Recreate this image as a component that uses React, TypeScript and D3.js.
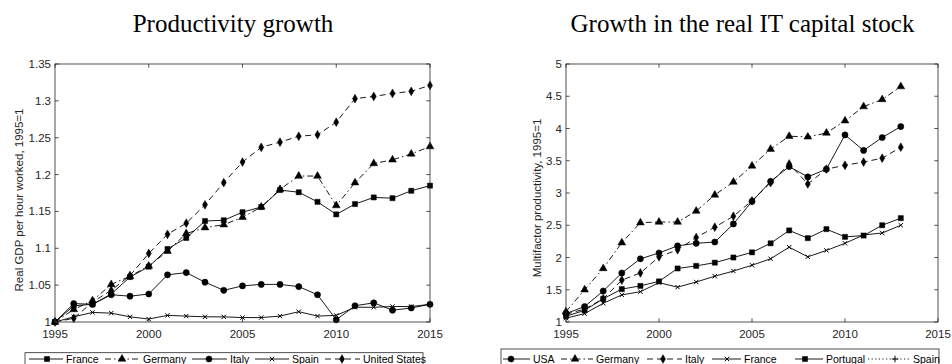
import React from "react";
import * as d3 from "d3";

// ---------- Productivity growth (real GDP per hour worked, 1995 = 1) ----------
const gdpYears = [1995, 1996, 1997, 1998, 1999, 2000, 2001, 2002, 2003, 2004, 2005, 2006, 2007, 2008, 2009, 2010, 2011, 2012, 2013, 2014, 2015];
const gdpFrance = [1, 1.022, 1.024, 1.038, 1.061, 1.075, 1.099, 1.114, 1.137, 1.138, 1.149, 1.156, 1.179, 1.176, 1.163, 1.146, 1.16, 1.169, 1.168, 1.178, 1.185];
const gdpGermany = [1, 1.017, 1.029, 1.051, 1.062, 1.076, 1.096, 1.12, 1.128, 1.132, 1.142, 1.156, 1.18, 1.198, 1.198, 1.158, 1.189, 1.215, 1.22, 1.228, 1.238];
const gdpItaly = [1, 1.025, 1.024, 1.037, 1.035, 1.038, 1.064, 1.067, 1.054, 1.043, 1.049, 1.051, 1.051, 1.048, 1.037, 1.003, 1.022, 1.026, 1.016, 1.019, 1.024];
const gdpSpain = [1, 1.007, 1.013, 1.012, 1.007, 1.004, 1.009, 1.008, 1.007, 1.007, 1.006, 1.006, 1.008, 1.014, 1.008, 1.009, 1.02, 1.02, 1.021, 1.021, 1.024];
const gdpUS = [1, 1.005, 1.027, 1.043, 1.063, 1.093, 1.119, 1.134, 1.159, 1.189, 1.217, 1.237, 1.244, 1.252, 1.254, 1.271, 1.303, 1.306, 1.31, 1.313, 1.321];
const gdpYTicks = [1, 1.05, 1.1, 1.15, 1.2, 1.25, 1.3, 1.35];
const gdpXTicks = [1995, 2000, 2005, 2010, 2015];

// ---------- Growth in the real IT capital stock ----------
const itYears = [1995, 1996, 1997, 1998, 1999, 2000, 2001, 2002, 2003, 2004, 2005, 2006, 2007, 2008, 2009, 2010, 2011, 2012, 2013];
const itUSA = [1.13, 1.24, 1.48, 1.76, 1.98, 2.07, 2.18, 2.22, 2.24, 2.52, 2.87, 3.18, 3.41, 3.25, 3.37, 3.9, 3.66, 3.86, 4.03];
const itGermany = [1.16, 1.5, 1.83, 2.23, 2.54, 2.55, 2.55, 2.72, 2.97, 3.17, 3.42, 3.68, 3.88, 3.87, 3.93, 4.12, 4.34, 4.45, 4.65];
const itItaly = [1.12, 1.2, 1.36, 1.65, 1.76, 2.01, 2.12, 2.31, 2.47, 2.64, 2.88, 3.16, 3.45, 3.14, 3.37, 3.43, 3.48, 3.54, 3.71];
const itFrance = [1.06, 1.13, 1.29, 1.42, 1.47, 1.61, 1.54, 1.62, 1.71, 1.79, 1.88, 1.98, 2.16, 2.01, 2.11, 2.22, 2.35, 2.38, 2.5];
const itPortugal = [1.09, 1.18, 1.36, 1.51, 1.56, 1.63, 1.83, 1.87, 1.92, 2.0, 2.08, 2.22, 2.42, 2.3, 2.44, 2.32, 2.34, 2.5, 2.61];
const itSpain: number[] = [];
const itYTicks = [1, 1.5, 2, 2.5, 3, 3.5, 4, 4.5, 5];
const itXTicks = [1995, 2000, 2005, 2010, 2015];

type Marker = "square" | "triangle" | "circle" | "times" | "diamond" | "plus";
type Dash = "solid" | "dashed" | "dashdot" | "dotted";
interface Series { name: string; values: number[]; marker: Marker; dash: Dash; }

const gdpSeries: Series[] = [
  { name: "France", values: gdpFrance, marker: "square", dash: "solid" },
  { name: "Germany", values: gdpGermany, marker: "triangle", dash: "dashdot" },
  { name: "Italy", values: gdpItaly, marker: "circle", dash: "solid" },
  { name: "Spain", values: gdpSpain, marker: "times", dash: "solid" },
  { name: "United States", values: gdpUS, marker: "diamond", dash: "dashed" },
];

const itSeries: Series[] = [
  { name: "USA", values: itUSA, marker: "circle", dash: "solid" },
  { name: "Germany", values: itGermany, marker: "triangle", dash: "dashdot" },
  { name: "Italy", values: itItaly, marker: "diamond", dash: "dashed" },
  { name: "France", values: itFrance, marker: "times", dash: "solid" },
  { name: "Portugal", values: itPortugal, marker: "square", dash: "solid" },
  { name: "Spain", values: itSpain, marker: "plus", dash: "dotted" },
];

const AXIS = "#262626";
const SANS = "'Liberation Sans', Arial, Helvetica, sans-serif";
const SERIF = "'Liberation Serif', 'Times New Roman', serif";

const dashArray: Record<Dash, string | undefined> = {
  solid: undefined,
  dashed: "6,4",
  dashdot: "6,3,1.5,3",
  dotted: "1.2,2.4",
};

const symbolTimes = (d3 as any).symbolTimes || (d3 as any).symbolX;

function markerPath(m: Marker): string {
  switch (m) {
    case "square": return d3.symbol(d3.symbolSquare, 26)()!;
    case "triangle": return d3.symbol(d3.symbolTriangle, 26)()!;
    case "circle": return d3.symbol(d3.symbolCircle, 30)()!;
    case "diamond": return d3.symbol(d3.symbolDiamond, 22)()!;
    case "times": return d3.symbol(symbolTimes, 14)()!;
    case "plus": return d3.symbol(d3.symbolPlus, 16)()!;
  }
}

const isStrokeMarker = (m: Marker) => m === "times" || m === "plus";

function MarkerGlyph({ m, x, y }: { m: Marker; x: number; y: number }) {
  const stroke = isStrokeMarker(m);
  return (
    <path
      d={markerPath(m)}
      transform={`translate(${x},${y})`}
      fill={stroke ? "none" : "#000"}
      stroke="#000"
      strokeWidth={stroke ? 1 : 0.5}
    />
  );
}

interface PanelProps {
  left: number; right: number; top: number; bottom: number;
  years: number[]; xDomain: [number, number]; xTicks: number[];
  yDomain: [number, number]; yTicks: number[];
  yLabel: string; yLabelX: number; yLabelY: number;
  title: string; titleX: number;
  series: Series[];
}

function Panel(p: PanelProps) {
  const x = d3.scaleLinear().domain(p.xDomain).range([p.left, p.right]);
  const y = d3.scaleLinear().domain(p.yDomain).range([p.bottom, p.top]);
  const tl = 3.7;
  const fmt = (v: number) => String(+v.toFixed(2));
  return (
    <g>
      <text x={p.titleX} y={32} textAnchor="middle" fontFamily={SERIF} fontSize={25} fill="#000">{p.title}</text>
      {p.series.map((s) => {
        const pts = s.values.map((v, i) => [x(p.years[i]), y(v)] as [number, number]);
        const path = d3.line()(pts);
        return (
          <g key={s.name}>
            {path && (
              <path d={path} fill="none" stroke="#000" strokeWidth={0.9} strokeDasharray={dashArray[s.dash]} />
            )}
            {pts.map(([px, py], i) => <MarkerGlyph key={i} m={s.marker} x={px} y={py} />)}
          </g>
        );
      })}
      <rect x={p.left} y={p.top} width={p.right - p.left} height={p.bottom - p.top} fill="none" stroke={AXIS} strokeWidth={0.8} />
      {p.xTicks.map((t) => (
        <g key={"x" + t}>
          <line x1={x(t)} x2={x(t)} y1={p.bottom} y2={p.bottom - tl} stroke={AXIS} strokeWidth={0.8} />
          <line x1={x(t)} x2={x(t)} y1={p.top} y2={p.top + tl} stroke={AXIS} strokeWidth={0.8} />
          <text x={x(t)} y={p.bottom + 15.5} textAnchor="middle" fontFamily={SANS} fontSize={11.5} fill={AXIS}>{t}</text>
        </g>
      ))}
      {p.yTicks.map((t) => (
        <g key={"y" + t}>
          <line x1={p.left} x2={p.left + tl} y1={y(t)} y2={y(t)} stroke={AXIS} strokeWidth={0.8} />
          <line x1={p.right} x2={p.right - tl} y1={y(t)} y2={y(t)} stroke={AXIS} strokeWidth={0.8} />
          <text x={p.left - 4} y={y(t) + 4} textAnchor="end" fontFamily={SANS} fontSize={11.5} fill={AXIS}>{fmt(t)}</text>
        </g>
      ))}
      <text
        transform={`translate(${p.yLabelX},${p.yLabelY}) rotate(-90)`}
        textAnchor="middle" fontFamily={SANS} fontSize={11.5} fill={AXIS}
      >{p.yLabel}</text>
    </g>
  );
}

interface LegendProps {
  series: Series[]; boxLeft: number; boxRight: number; boxTop: number;
  starts: number[]; sampleLen: number[]; markerOffset: number[];
}

function Legend(l: LegendProps) {
  const cy = 359;
  return (
    <g>
      <rect x={l.boxLeft} y={l.boxTop} width={l.boxRight - l.boxLeft} height={30} fill="#fff" stroke={AXIS} strokeWidth={0.8} />
      {l.series.map((s, i) => {
        const x0 = l.starts[i];
        const x1 = x0 + l.sampleLen[i];
        return (
          <g key={s.name}>
            <line x1={x0} x2={x1} y1={cy} y2={cy} stroke="#000" strokeWidth={0.9} strokeDasharray={dashArray[s.dash]} />
            <MarkerGlyph m={s.marker} x={x0 + l.markerOffset[i]} y={cy} />
            <text x={x1 + 3} y={cy + 3.8} fontFamily={SANS} fontSize={10.5} fill="#000">{s.name}</text>
          </g>
        );
      })}
    </g>
  );
}

export default function App() {
  return (
    <svg width={952} height={364} style={{ position: "absolute", left: 0, top: 0, background: "#fff" }}>
      <rect width={952} height={364} fill="#fff" />
      <Panel
        left={55} right={430} top={64} bottom={322}
        years={gdpYears} xDomain={[1995, 2015]} xTicks={gdpXTicks}
        yDomain={[1, 1.35]} yTicks={gdpYTicks}
        yLabel="Real GDP per hour worked, 1995=1" yLabelX={23} yLabelY={200}
        title="Productivity growth" titleX={233}
        series={gdpSeries}
      />
      <Panel
        left={566} right={938} top={64} bottom={322}
        years={itYears} xDomain={[1995, 2015]} xTicks={itXTicks}
        yDomain={[1, 5]} yTicks={itYTicks}
        yLabel="Multifactor productivity, 1995=1" yLabelX={541} yLabelY={198}
        title="Growth in the real IT capital stock" titleX={742.5}
        series={itSeries}
      />
      <Legend
        series={gdpSeries} boxLeft={25} boxRight={423} boxTop={352.7}
        starts={[29, 105, 192, 255, 325]} sampleLen={[34, 35, 35, 34, 35]} markerOffset={[18, 17, 17, 17, 17]}
      />
      <Legend
        series={itSeries} boxLeft={501} boxRight={939} boxTop={349}
        starts={[503, 561, 647, 712, 795, 868]} sampleLen={[27, 32, 35, 29, 28, 42]} markerOffset={[8, 14, 16, 15, 10, 27]}
      />
    </svg>
  );
}
